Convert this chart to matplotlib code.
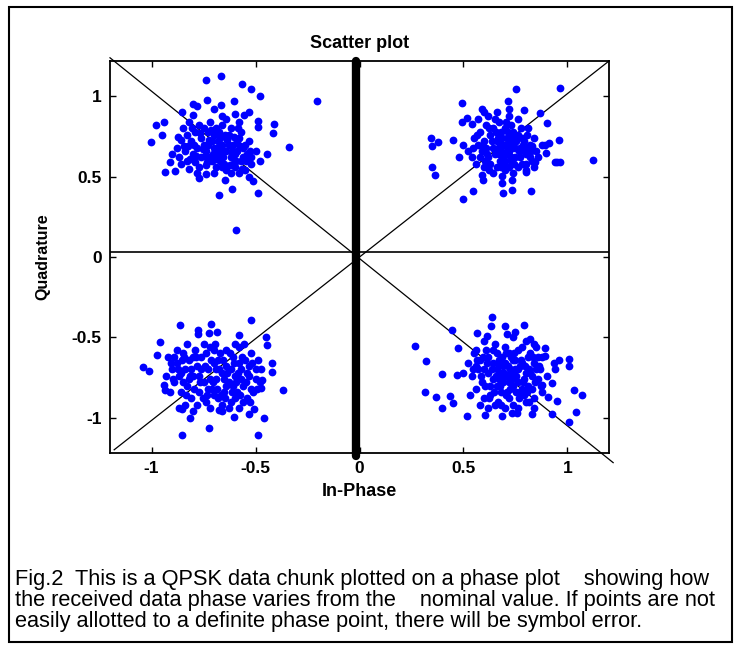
import matplotlib
matplotlib.use("Agg")
import matplotlib.pyplot as plt
from matplotlib import font_manager
from matplotlib.patches import Rectangle

# ---------------- data ----------------
cluster_top_left = [
    (-0.74, 1.10), (-0.665, 1.124), (-0.567, 1.079), (-0.523, 1.043), (-0.478, 1.00),
    (-0.204, 0.969), (-0.733, 0.975), (-0.80, 0.95), (-0.78, 0.94), (-0.668, 0.944),
    (-0.70, 0.924), (-0.604, 0.969), (-0.556, 0.882), (-0.532, 0.903), (-0.663, 0.878),
    (-0.60, 0.888), (-0.80, 0.886), (-0.853, 0.903), (-0.49, 0.845), (-0.49, 0.81),
    (-0.41, 0.83), (-0.418, 0.77), (-0.979, 0.82), (-0.939, 0.84), (-0.95, 0.762),
    (-1.003, 0.716), (-0.338, 0.685), (-0.443, 0.643), (-0.48, 0.60), (-0.52, 0.62),
    (-0.934, 0.526), (-0.886, 0.534), (-0.773, 0.489), (-0.74, 0.514), (-0.649, 0.478),
    (-0.612, 0.422), (-0.676, 0.385), (-0.49, 0.40), (-0.51, 0.47), (-0.596, 0.168),
    (-0.85, 0.80), (-0.83, 0.76), (-0.81, 0.72), (-0.79, 0.78), (-0.77, 0.82),
    (-0.76, 0.74), (-0.75, 0.70), (-0.74, 0.66), (-0.73, 0.78), (-0.72, 0.62),
    (-0.71, 0.72), (-0.70, 0.68), (-0.69, 0.80), (-0.68, 0.64), (-0.67, 0.74),
    (-0.66, 0.70), (-0.65, 0.58), (-0.64, 0.66), (-0.63, 0.76), (-0.62, 0.62),
    (-0.61, 0.70), (-0.60, 0.56), (-0.59, 0.66), (-0.58, 0.74), (-0.57, 0.60),
    (-0.56, 0.68), (-0.55, 0.54), (-0.54, 0.64), (-0.53, 0.72), (-0.88, 0.68),
    (-0.87, 0.62), (-0.86, 0.58), (-0.84, 0.66), (-0.83, 0.60), (-0.82, 0.55),
    (-0.80, 0.64), (-0.79, 0.59), (-0.78, 0.68), (-0.77, 0.56), (-0.76, 0.62),
    (-0.75, 0.80), (-0.74, 0.57), (-0.73, 0.70), (-0.72, 0.84), (-0.71, 0.60),
    (-0.70, 0.76), (-0.69, 0.56), (-0.68, 0.72), (-0.67, 0.60), (-0.66, 0.82),
    (-0.65, 0.66), (-0.64, 0.54), (-0.63, 0.70), (-0.62, 0.80), (-0.61, 0.58),
    (-0.60, 0.64), (-0.59, 0.72), (-0.58, 0.52), (-0.57, 0.78), (-0.56, 0.62),
    (-0.55, 0.70), (-0.86, 0.73), (-0.82, 0.84), (-0.90, 0.64), (-0.91, 0.59),
    (-0.78, 0.52), (-0.70, 0.52), (-0.66, 0.56), (-0.62, 0.52), (-0.64, 0.86),
    (-0.58, 0.84), (-0.52, 0.58), (-0.50, 0.66), (-0.53, 0.50),
    (-0.845, 0.69), (-0.815, 0.61), (-0.795, 0.70), (-0.765, 0.77), (-0.745, 0.63),
    (-0.725, 0.73), (-0.705, 0.64), (-0.685, 0.68), (-0.675, 0.78), (-0.655, 0.62),
    (-0.635, 0.73), (-0.615, 0.66), (-0.595, 0.60), (-0.575, 0.69), (-0.545, 0.60),
    (-0.525, 0.66), (-0.805, 0.80), (-0.755, 0.67), (-0.715, 0.79), (-0.695, 0.61),
    (-0.645, 0.76), (-0.625, 0.57), (-0.585, 0.80), (-0.565, 0.55), (-0.875, 0.75),
    (-0.825, 0.69), (-0.785, 0.63), (-0.735, 0.59), (-0.665, 0.66), (-0.605, 0.75),
]

cluster_top_right = [
    (0.754, 1.043), (0.963, 1.054), (0.491, 0.958), (0.712, 0.969), (0.587, 0.923),
    (0.789, 0.917), (0.721, 0.923), (0.87, 0.896), (0.902, 0.834), (0.515, 0.865),
    (0.491, 0.84), (0.54, 0.83), (0.346, 0.743), (0.379, 0.713), (0.351, 0.69),
    (0.451, 0.731), (0.958, 0.731), (0.894, 0.70), (0.91, 0.71), (0.898, 0.65),
    (0.829, 0.69), (0.845, 0.592), (0.963, 0.592), (0.942, 0.592), (0.952, 0.592),
    (1.124, 0.604), (0.351, 0.56), (0.362, 0.513), (0.587, 0.51), (0.595, 0.48),
    (0.625, 0.54), (0.684, 0.505), (0.684, 0.46), (0.732, 0.48), (0.692, 0.40),
    (0.732, 0.42), (0.547, 0.41), (0.499, 0.358), (0.826, 0.41), (0.70, 0.56),
    (0.72, 0.56), (0.68, 0.56), (0.80, 0.53),
    (0.55, 0.74), (0.57, 0.70), (0.58, 0.78), (0.59, 0.66), (0.60, 0.72),
    (0.61, 0.82), (0.62, 0.62), (0.63, 0.76), (0.64, 0.68), (0.65, 0.86),
    (0.66, 0.72), (0.67, 0.64), (0.68, 0.78), (0.69, 0.70), (0.70, 0.60),
    (0.71, 0.74), (0.72, 0.66), (0.73, 0.82), (0.74, 0.70), (0.75, 0.62),
    (0.76, 0.76), (0.77, 0.68), (0.78, 0.58), (0.79, 0.72), (0.80, 0.64),
    (0.81, 0.80), (0.82, 0.70), (0.83, 0.60), (0.84, 0.74), (0.52, 0.66),
    (0.54, 0.62), (0.56, 0.58), (0.58, 0.62), (0.60, 0.56), (0.61, 0.68),
    (0.62, 0.88), (0.63, 0.58), (0.64, 0.80), (0.65, 0.64), (0.66, 0.56),
    (0.67, 0.84), (0.68, 0.66), (0.69, 0.62), (0.70, 0.80), (0.71, 0.66),
    (0.72, 0.72), (0.73, 0.60), (0.74, 0.78), (0.75, 0.68), (0.76, 0.56),
    (0.77, 0.62), (0.78, 0.74), (0.79, 0.66), (0.80, 0.58), (0.82, 0.62),
    (0.85, 0.66), (0.86, 0.62), (0.88, 0.70), (0.57, 0.86), (0.60, 0.90),
    (0.66, 0.90), (0.72, 0.88), (0.76, 0.86), (0.64, 0.52), (0.70, 0.54),
    (0.74, 0.52), (0.80, 0.54), (0.84, 0.56), (0.48, 0.62), (0.50, 0.70),
    (0.565, 0.76), (0.595, 0.69), (0.615, 0.64), (0.635, 0.72), (0.655, 0.67),
    (0.675, 0.70), (0.685, 0.74), (0.695, 0.65), (0.705, 0.70), (0.715, 0.78),
    (0.725, 0.63), (0.735, 0.68), (0.745, 0.74), (0.765, 0.66), (0.785, 0.70),
    (0.805, 0.76), (0.825, 0.66), (0.655, 0.78), (0.625, 0.80), (0.675, 0.60),
    (0.705, 0.84), (0.745, 0.58), (0.775, 0.80), (0.815, 0.68), (0.605, 0.60),
    (0.545, 0.68), (0.665, 0.74), (0.725, 0.76), (0.755, 0.72), (0.695, 0.58),
]

cluster_bottom_left = [
    (-0.861, -0.422), (-0.716, -0.416), (-0.523, -0.391), (-0.776, -0.453), (-0.776, -0.478),
    (-0.725, -0.47), (-0.684, -0.464), (-0.58, -0.485), (-0.451, -0.495), (-0.443, -0.547),
    (-0.958, -0.526), (-0.974, -0.613), (-1.039, -0.686), (-1.014, -0.712), (-0.419, -0.66),
    (-0.419, -0.718), (-0.37, -0.826), (-0.467, -0.764), (-0.475, -0.816), (-0.934, -0.826),
    (-0.942, -0.795), (-0.87, -0.94), (-0.853, -0.946), (-0.813, -1.00), (-0.725, -1.064),
    (-0.853, -1.111), (-0.604, -0.996), (-0.531, -0.975), (-0.507, -0.946), (-0.459, -1.00),
    (-0.486, -1.106), (-0.676, -0.95), (-0.628, -0.94),
    (-0.92, -0.62), (-0.90, -0.70), (-0.89, -0.78), (-0.88, -0.66), (-0.87, -0.74),
    (-0.86, -0.84), (-0.85, -0.60), (-0.84, -0.70), (-0.83, -0.80), (-0.82, -0.64),
    (-0.81, -0.88), (-0.80, -0.74), (-0.79, -0.58), (-0.78, -0.68), (-0.77, -0.84),
    (-0.76, -0.62), (-0.75, -0.78), (-0.74, -0.90), (-0.73, -0.70), (-0.72, -0.56),
    (-0.71, -0.82), (-0.70, -0.66), (-0.69, -0.76), (-0.68, -0.88), (-0.67, -0.60),
    (-0.66, -0.72), (-0.65, -0.84), (-0.64, -0.68), (-0.63, -0.78), (-0.62, -0.90),
    (-0.61, -0.62), (-0.60, -0.74), (-0.59, -0.84), (-0.58, -0.56), (-0.57, -0.70),
    (-0.56, -0.80), (-0.55, -0.64), (-0.54, -0.88), (-0.53, -0.74), (-0.52, -0.60),
    (-0.51, -0.84), (-0.50, -0.70), (-0.49, -0.64), (-0.48, -0.78), (-0.91, -0.84),
    (-0.88, -0.58), (-0.86, -0.72), (-0.84, -0.92), (-0.82, -0.76), (-0.80, -0.62),
    (-0.78, -0.92), (-0.76, -0.70), (-0.74, -0.60), (-0.72, -0.76), (-0.70, -0.86),
    (-0.68, -0.64), (-0.66, -0.92), (-0.64, -0.80), (-0.62, -0.70), (-0.60, -0.88),
    (-0.58, -0.66), (-0.56, -0.90), (-0.54, -0.72), (-0.52, -0.82), (-0.50, -0.76),
    (-0.93, -0.74), (-0.89, -0.62), (-0.85, -0.78), (-0.81, -0.70), (-0.77, -0.74),
    (-0.73, -0.82), (-0.69, -0.70), (-0.65, -0.76), (-0.61, -0.80), (-0.57, -0.76),
    (-0.53, -0.68), (-0.75, -0.54), (-0.70, -0.58), (-0.64, -0.58), (-0.60, -0.54),
    (-0.83, -0.54), (-0.80, -0.96), (-0.72, -0.94), (-0.66, -0.96), (-0.58, -0.94),
    (-0.905, -0.66), (-0.875, -0.70), (-0.855, -0.64), (-0.835, -0.86), (-0.815, -0.74),
    (-0.795, -0.82), (-0.785, -0.62), (-0.765, -0.78), (-0.745, -0.68), (-0.735, -0.86),
    (-0.715, -0.64), (-0.705, -0.78), (-0.685, -0.82), (-0.675, -0.70), (-0.655, -0.64),
    (-0.645, -0.88), (-0.635, -0.72), (-0.615, -0.84), (-0.605, -0.66), (-0.595, -0.78),
    (-0.575, -0.86), (-0.565, -0.62), (-0.545, -0.78), (-0.525, -0.90), (-0.515, -0.66),
    (-0.495, -0.82), (-0.475, -0.70), (-0.555, -0.54), (-0.695, -0.54), (-0.895, -0.76),
    (-0.845, -0.62), (-0.755, -0.88), (-0.625, -0.60), (-0.585, -0.72), (-0.665, -0.86),
]

cluster_bottom_right = [
    (0.266, -0.557), (0.636, -0.371), (0.789, -0.422), (0.70, -0.43), (0.633, -0.43),
    (0.749, -0.464), (0.708, -0.48), (0.563, -0.474), (0.612, -0.489), (0.821, -0.512),
    (0.443, -0.453), (0.475, -0.567), (0.322, -0.646), (0.398, -0.729), (0.467, -0.733),
    (0.314, -0.84), (0.37, -0.874), (0.435, -0.868), (0.451, -0.909), (0.398, -0.94),
    (0.515, -0.992), (0.604, -0.982), (0.684, -0.992), (0.733, -0.97), (0.757, -0.97),
    (0.829, -0.98), (0.894, -0.567), (0.89, -0.619), (0.958, -0.64), (1.006, -0.633),
    (1.006, -0.68), (0.934, -0.66), (0.942, -0.70), (0.877, -0.795), (0.926, -0.785),
    (1.03, -0.826), (1.07, -0.862), (0.909, -0.874), (0.95, -0.898), (1.039, -0.965),
    (1.006, -1.027), (0.926, -0.98), (0.837, -0.94),
    (0.52, -0.66), (0.54, -0.74), (0.55, -0.60), (0.56, -0.82), (0.57, -0.70),
    (0.58, -0.64), (0.59, -0.78), (0.60, -0.88), (0.61, -0.58), (0.62, -0.72),
    (0.63, -0.80), (0.64, -0.66), (0.65, -0.92), (0.66, -0.60), (0.67, -0.76),
    (0.68, -0.84), (0.69, -0.68), (0.70, -0.56), (0.71, -0.74), (0.72, -0.88),
    (0.73, -0.62), (0.74, -0.80), (0.75, -0.70), (0.76, -0.58), (0.77, -0.84),
    (0.78, -0.66), (0.79, -0.76), (0.80, -0.90), (0.81, -0.62), (0.82, -0.72),
    (0.83, -0.82), (0.84, -0.66), (0.85, -0.56), (0.86, -0.76), (0.87, -0.70),
    (0.88, -0.62), (0.53, -0.86), (0.56, -0.68), (0.58, -0.92), (0.60, -0.70),
    (0.62, -0.62), (0.63, -0.86), (0.64, -0.76), (0.65, -0.54), (0.66, -0.70),
    (0.67, -0.64), (0.68, -0.92), (0.69, -0.78), (0.70, -0.66), (0.71, -0.84),
    (0.72, -0.60), (0.73, -0.72), (0.74, -0.92), (0.75, -0.64), (0.76, -0.78),
    (0.77, -0.68), (0.78, -0.56), (0.79, -0.86), (0.80, -0.72), (0.81, -0.80),
    (0.82, -0.60), (0.83, -0.74), (0.84, -0.88), (0.85, -0.70), (0.86, -0.62),
    (0.70, -0.74), (0.72, -0.78), (0.74, -0.64), (0.68, -0.72), (0.66, -0.80),
    (0.76, -0.70), (0.78, -0.82), (0.64, -0.58), (0.70, -0.94), (0.76, -0.94),
    (0.62, -0.94), (0.56, -0.58), (0.60, -0.52), (0.74, -0.50), (0.80, -0.52),
    (0.84, -0.54), (0.50, -0.72), (0.90, -0.74), (0.88, -0.84),
    (0.545, -0.70), (0.565, -0.64), (0.585, -0.74), (0.605, -0.80), (0.615, -0.66),
    (0.635, -0.70), (0.645, -0.84), (0.655, -0.74), (0.665, -0.66), (0.675, -0.80),
    (0.685, -0.62), (0.695, -0.72), (0.705, -0.86), (0.715, -0.68), (0.725, -0.82),
    (0.735, -0.76), (0.745, -0.60), (0.755, -0.74), (0.765, -0.88), (0.775, -0.64),
    (0.785, -0.78), (0.795, -0.68), (0.805, -0.84), (0.815, -0.70), (0.835, -0.62),
    (0.845, -0.78), (0.865, -0.68), (0.875, -0.80), (0.625, -0.88), (0.595, -0.62),
    (0.705, -0.60), (0.755, -0.84), (0.815, -0.90), (0.665, -0.90), (0.725, -0.70),
]

# reference lines
diag_down_x = [-1.2, 1.22]
diag_down_y = [1.24, -1.28]
diag_up_x = [-1.18, 1.2]
diag_up_y = [-1.2, 1.22]
hline_y = 0.03
vbar_x = -0.015

xticks = [-1, -0.5, 0, 0.5, 1]
xticklabels = ["-1", "-0.5", "0", "0.5", "1"]
yticks = [-1, -0.5, 0, 0.5, 1]
yticklabels = ["-1", "-0.5", "0", "0.5", "1"]

title = "Scatter plot"
xlabel = "In-Phase"
ylabel = "Quadrature"
caption_lines = [
    "Fig.2  This is a QPSK data chunk plotted on a phase plot    showing how",
    "the received data phase varies from the    nominal value. If points are not",
    "easily allotted to a definite phase point, there will be symbol error.",
]

# ---------------- drawing ----------------
available = {f.name for f in font_manager.fontManager.ttflist}
cap_font = "Liberation Sans Narrow" if "Liberation Sans Narrow" in available else "Liberation Sans"
axis_font = "Liberation Sans"

fig = plt.figure(figsize=(7.38, 6.48), dpi=100)
fig.patch.set_facecolor("white")

# outer frame
fig.patches.append(Rectangle((9 / 738, 1 - 642 / 648), (732 - 9) / 738, (642 - 7) / 648,
                             transform=fig.transFigure, fill=False, ec="black", lw=1.5))

ax = fig.add_axes([110 / 738, 1 - 453 / 648, (609 - 110) / 738, (453 - 61) / 648])
ax.set_xlim(-1.2, 1.2)
ax.set_ylim(-1.22, 1.22)

ax.plot(diag_down_x, diag_down_y, color="black", lw=0.9, clip_on=False, zorder=1)
ax.plot(diag_up_x, diag_up_y, color="black", lw=0.9, clip_on=False, zorder=1)
ax.axhline(hline_y, color="black", lw=1.2, zorder=1)

for pts in (cluster_top_left, cluster_top_right, cluster_bottom_left, cluster_bottom_right):
    xs = [p[0] for p in pts]
    ys = [p[1] for p in pts]
    ax.plot(xs, ys, linestyle="none", marker="o", ms=5.6, mew=0,
            color="#0000ff", zorder=2)

ax.plot([vbar_x, vbar_x], [-1.24, 1.22], color="black", lw=6,
        solid_capstyle="round", clip_on=False, zorder=3)

ax.set_xticks(xticks)
ax.set_xticklabels(xticklabels)
ax.set_yticks(yticks)
ax.set_yticklabels(yticklabels)
ax.tick_params(direction="in", length=4, width=1, top=True, right=True,
               labelsize=12.5, pad=6)
for lab in ax.get_xticklabels() + ax.get_yticklabels():
    lab.set_fontweight("heavy")
    lab.set_family(axis_font)
for s in ax.spines.values():
    s.set_linewidth(1.3)

ax.set_title(title, fontsize=13, fontweight="bold", family=axis_font, pad=9)
ax.set_xlabel(xlabel, fontsize=13, fontweight="bold", family=axis_font, labelpad=5)
ax.set_ylabel(ylabel, fontsize=11.5, fontweight="bold", family=axis_font, labelpad=15)

# caption: size the font so that the first line spans nearly the same width as in the reference
fig.canvas.draw()
renderer = fig.canvas.get_renderer()
probe = fig.text(0, 0, caption_lines[0], fontsize=12, family=cap_font)
w = probe.get_window_extent(renderer).width
probe.remove()
cap_size = 12 * (712 - 15) / w
for i, line in enumerate(caption_lines):
    fig.text(15 / 738, 1 - (585 + 21 * i) / 648, line, ha="left", va="baseline",
             fontsize=cap_size, family=cap_font)

fig.savefig("out.png", dpi=100, facecolor="white")
